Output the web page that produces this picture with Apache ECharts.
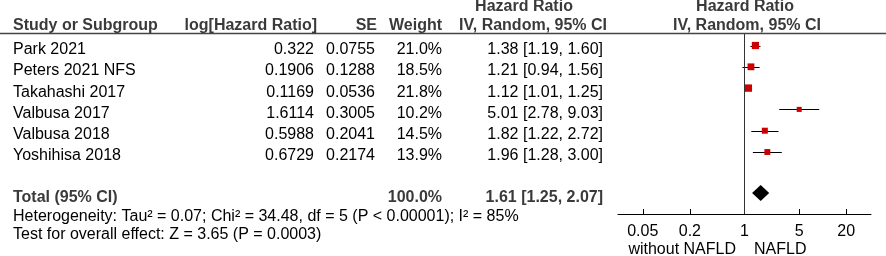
<!DOCTYPE html>
<html>
<head>
<meta charset="utf-8">
<script src="https://cdn.jsdelivr.net/npm/echarts@6/dist/echarts.min.js"></script>
<style>
html, body { margin: 0; padding: 0; background: #fff; }
#main { width: 886px; height: 256px; }
</style>
</head>
<body>
<div id="main"></div>
<script>
// study data
var studies = ['Park 2021', 'Peters 2021 NFS', 'Takahashi 2017', 'Valbusa 2017', 'Valbusa 2018', 'Yoshihisa 2018'];
var logHR = ['0.322', '0.1906', '0.1169', '1.6114', '0.5988', '0.6729'];
var seList = ['0.0755', '0.1288', '0.0536', '0.3005', '0.2041', '0.2174'];
var weights = [21.0, 18.5, 21.8, 10.2, 14.5, 13.9];
var hr = [1.38, 1.21, 1.12, 5.01, 1.82, 1.96];
var ciLow = [1.19, 0.94, 1.01, 2.78, 1.22, 1.28];
var ciHigh = [1.60, 1.56, 1.25, 9.03, 2.72, 3.00];

var totalHR = 1.61;
var totalLow = 1.25;
var totalHigh = 2.07;
var totalWeight = 100.0;
var totalRow = 6.92;

var tickValues = [0.05, 0.2, 1, 5, 20];
var tickLabels = ['0.05', '0.2', '1', '5', '20'];

var hetText = 'Heterogeneity: Tau\u00b2 = 0.07; Chi\u00b2 = 34.48, df = 5 (P < 0.00001); I\u00b2 = 85%';
var testText = 'Test for overall effect: Z = 3.65 (P = 0.0003)';

var FONT = 'Liberation Sans, Arial, sans-serif';
var FS = 16;
var lg = function (v) { return Math.log(v) / Math.LN10; };
var fmt = function (v, d) { return v.toFixed(d); };

var dom = document.getElementById('main');
var myChart = echarts.init(dom);

var whiskers = studies.map(function (s, i) { return [lg(ciLow[i]), lg(ciHigh[i]), i]; });
var squares = studies.map(function (s, i) { return { value: [lg(hr[i]), i], symbolSize: 1.58 * Math.sqrt(weights[i]) }; });

var option = {
    animation: false,
    grid: { left: 618, right: 15, top: 34, bottom: 42 },
    xAxis: {
        type: 'value',
        position: 'bottom',
        min: lg(0.0241),
        max: lg(41.5),
        splitLine: { show: false },
        axisLine: { onZero: false, lineStyle: { color: '#000', width: 1 } },
        axisTick: {
            inside: true, length: 5,
            customValues: tickValues.map(lg),
            lineStyle: { color: '#000' }
        },
        axisLabel: {
            customValues: tickValues.map(lg),
            margin: 10,
            color: '#000',
            fontFamily: FONT,
            fontSize: FS,
            formatter: function (v) {
                var best = 0;
                tickValues.forEach(function (t, k) {
                    if (Math.abs(lg(t) - v) < Math.abs(lg(tickValues[best]) - v)) best = k;
                });
                return tickLabels[best];
            }
        }
    },
    yAxis: {
        type: 'value', inverse: true, min: -0.54, max: 7.91, show: false
    },
    series: [
        {
            // confidence interval lines
            type: 'custom',
            data: whiskers,
            renderItem: function (params, api) {
                var a = api.coord([api.value(0), api.value(2)]);
                var b = api.coord([api.value(1), api.value(2)]);
                var y = Math.round(a[1]) + 0.5;
                return { type: 'line', shape: { x1: a[0], y1: y, x2: b[0], y2: y }, style: { stroke: '#000', lineWidth: 1 } };
            }
        },
        {
            type: 'scatter',
            symbol: 'rect',
            data: squares,
            itemStyle: { color: '#cc0000', opacity: 1 },
            markLine: {
                silent: true, symbol: 'none', label: { show: false },
                lineStyle: { color: '#333', width: 1, type: 'solid' },
                data: [{ xAxis: 0 }]
            }
        },
        {
            // pooled estimate diamond
            type: 'custom',
            data: [[lg(totalLow), lg(totalHR), lg(totalHigh), totalRow]],
            renderItem: function (params, api) {
                var l = api.coord([api.value(0), api.value(3)]);
                var m = api.coord([api.value(1), api.value(3)]);
                var r = api.coord([api.value(2), api.value(3)]);
                return {
                    type: 'polygon',
                    shape: { points: [[l[0], l[1]], [m[0], m[1] - 8], [r[0], r[1]], [m[0], m[1] + 8]] },
                    style: { fill: '#000' }
                };
            }
        }
    ]
};
myChart.setOption(option);

// table text, placed on the rows of the plot
var txt = function (s, x, y, align, bold, color) {
    return {
        type: 'text', silent: true,
        style: {
            text: s, x: x, y: y, textAlign: align, textVerticalAlign: 'middle',
            font: (bold ? 'bold ' : '') + FS + 'px ' + FONT,
            fill: color || '#000'
        }
    };
};
var rowY = function (i) { return myChart.convertToPixel({ gridIndex: 0 }, [0, i])[1] + 4; };
var HEAD = '#3a3a3a';
var g = [
    { type: 'line', silent: true, shape: { x1: 0, y1: 33.5, x2: 886, y2: 33.5 }, style: { stroke: '#444', lineWidth: 1.5 } },
    txt('Study or Subgroup', 13, 26, 'left', true, HEAD),
    txt('log[Hazard Ratio]', 317, 26, 'right', true, HEAD),
    txt('SE', 377, 26, 'right', true, HEAD),
    txt('Weight', 442, 26, 'right', true, HEAD),
    txt('Hazard Ratio', 524, 7, 'center', true, HEAD),
    txt('IV, Random, 95% CI', 607, 26, 'right', true, HEAD),
    txt('Hazard Ratio', 745, 7, 'center', true, HEAD),
    txt('IV, Random, 95% CI', 747, 26, 'center', true, HEAD),
    txt('Total (95% CI)', 13, rowY(totalRow) + 1, 'left', true, HEAD),
    txt(fmt(totalWeight, 1) + '%', 442, rowY(totalRow) + 1, 'right', true, HEAD),
    txt(fmt(totalHR, 2) + ' [' + fmt(totalLow, 2) + ', ' + fmt(totalHigh, 2) + ']', 603, rowY(totalRow) + 1, 'right', true, HEAD),
    txt(hetText, 13, 217, 'left'),
    txt(testText, 13, 235, 'left'),
    txt('without NAFLD', 736, 250, 'right'),
    txt('NAFLD', 754, 250, 'left')
];
studies.forEach(function (s, i) {
    var y = rowY(i);
    g.push(txt(s, 13, y, 'left'));
    g.push(txt(logHR[i], 314, y, 'right'));
    g.push(txt(seList[i], 375, y, 'right'));
    g.push(txt(fmt(weights[i], 1) + '%', 442, y, 'right'));
    g.push(txt(fmt(hr[i], 2) + ' [' + fmt(ciLow[i], 2) + ', ' + fmt(ciHigh[i], 2) + ']', 603, y, 'right'));
});
myChart.setOption({ graphic: g });
</script>
</body>
</html>
